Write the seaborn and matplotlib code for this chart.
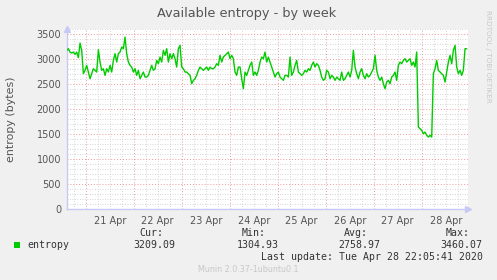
import numpy as np
import pandas as pd
import matplotlib
matplotlib.use("Agg")
import matplotlib.pyplot as plt
import matplotlib.dates as mdates
from matplotlib.ticker import MultipleLocator, FuncFormatter
import seaborn as sns

# ---- data ----
entropy = [
    3167, 3200, 3133, 3113, 3133, 3087, 3133, 3020, 3313, 3167,
    2700, 2767, 2867, 2733, 2600, 2700, 2800, 2767, 2733, 3180,
    2933, 2767, 2800, 2667, 2800, 2733, 2867, 2733, 2967, 3100,
    2933, 3100, 3133, 3233, 3200, 3433, 3100, 2933, 2867, 2833,
    2733, 2800, 2667, 2767, 2600, 2667, 2733, 2633, 2633, 2667,
    2767, 2867, 2767, 2800, 2967, 2900, 3033, 2933, 3167, 3067,
    3200, 2933, 3100, 3000, 3100, 3000, 2833, 3200, 3267, 2833,
    2800, 2733, 2733, 2700, 2667, 2500, 2567, 2600, 2667, 2767,
    2833, 2800, 2767, 2800, 2833, 2767, 2833, 2800, 2800, 2833,
    2900, 2867, 3067, 2933, 3033, 3067, 3100, 3133, 3000, 3067,
    3000, 2733, 2667, 2833, 2833,
    2600, 2400, 2733, 2667, 2767, 2867, 2933, 2667, 2733, 2667,
    2767, 2933, 3033, 3000, 3133, 2933, 3033, 2933, 2833, 2733,
    2633, 2700, 2733, 2633, 2600, 2567, 2667, 2667, 2633, 3033,
    2667, 2733, 2867, 2967, 2733, 2700, 2667, 2700, 2767, 2733,
    2800, 2767, 2867, 2933, 2833, 2900, 2867, 2767, 2633, 2567,
    2600, 2767, 2733, 2600, 2667, 2633, 2567, 2633, 2600, 2567,
    2733, 2567, 2600, 2667, 2733, 2633, 2767, 3167, 2833, 2700,
    2600, 2733, 2800, 2667, 2600, 2700, 2633, 2667, 2733, 2800,
    3067, 2767, 2633, 2567, 2633, 2500, 2400, 2533, 2567, 2500,
    2633, 2667, 2733, 2567, 2867, 2933, 2900, 2967, 3000, 2933,
    2967, 3000, 2867, 2933, 2833, 3133, 1633, 1600, 1567, 1500,
    1533, 1467, 1433, 1467, 1433, 2700, 2800, 2967, 2767, 2733,
    2700, 2667, 2533, 2733, 2933, 3067, 2900, 3167, 3267, 2833,
    2700, 2767, 2667, 2767, 3200, 3200,
]
start_time = "2020-04-20 14:30"
sample_step = "50min"
title = "Available entropy - by week"
ylabel = "entropy (bytes)"
series_name = "entropy"
stats_labels = ["Cur:", "Min:", "Avg:", "Max:"]
stats_values = ["3209.09", "1304.93", "2758.97", "3460.07"]
last_update = "Last update: Tue Apr 28 22:05:41 2020"
footer = "Munin 2.0.37-1ubuntu0.1"
side_text = "RRDTOOL / TOBI OETIKER"

df = pd.DataFrame({
    "time": pd.date_range(start_time, periods=len(entropy), freq=sample_step),
    "value": entropy,
})

# ---- figure ----
sns.set_theme(style="white")
plt.rcParams["font.family"] = ["DejaVu Sans"]

W, H = 497, 280
fig = plt.figure(figsize=(W / 100, H / 100), dpi=100, facecolor="#F0F0F0")

def px(x, y):
    return x / W, 1 - y / H

left, right, top, bottom = 66.7, 468.0, 28.7, 208.7
ax = fig.add_axes([left / W, 1 - bottom / H, (right - left) / W, (bottom - top) / H])
ax.set_facecolor("white")

sns.lineplot(data=df, x="time", y="value", ax=ax, color="#00CC00", linewidth=1.0, zorder=5)

ax.set_ylim(0, 3600)
ax.set_xlim(pd.Timestamp("2020-04-20 14:30"), pd.Timestamp("2020-04-28 23:09"))

# y grid
ax.yaxis.set_major_locator(MultipleLocator(500))
ax.yaxis.set_minor_locator(MultipleLocator(100))
# x grid: red at midnight, gray every 6 h, labels at noon
ax.xaxis.set_major_locator(mdates.DayLocator())
ax.xaxis.set_major_formatter(FuncFormatter(lambda v, p: ""))
ax.xaxis.set_minor_locator(mdates.HourLocator(byhour=[6, 12, 18]))

def noon_fmt(v, p):
    d = mdates.num2date(v)
    return d.strftime("%d %b") if d.hour == 12 else ""

ax.xaxis.set_minor_formatter(FuncFormatter(noon_fmt))

ax.grid(which="major", color="#EE9A9A", linestyle=(0, (1, 2)), linewidth=0.7, zorder=1)
ax.grid(which="minor", color="#C8C8C8", linestyle=(0, (1, 2)), linewidth=0.6, zorder=0)

ax.tick_params(axis="both", which="both", length=0, labelsize=7, colors="#555555")
ax.tick_params(axis="y", pad=4)
ax.tick_params(axis="x", which="minor", pad=5)
ax.set_xlabel("")
ax.set_ylabel("")

for s in ["top", "right"]:
    ax.spines[s].set_visible(False)
for s in ["left", "bottom"]:
    ax.spines[s].set_color("#C8C8F5")
    ax.spines[s].set_linewidth(1.0)

# axis arrowheads
ax.plot([1.0], [0], marker=">", color="#C8C8F5", markersize=4, transform=ax.transAxes, clip_on=False)
ax.plot([0], [1.0], marker="^", color="#C8C8F5", markersize=4, transform=ax.transAxes, clip_on=False)

# ---- texts ----
fig.text(*px(247, 13), title, ha="center", va="center", fontsize=9.3, color="#555555")
fig.text(*px(11, 119.5), ylabel, ha="center", va="center", rotation=90, fontsize=7.9, color="#555555")
fig.text(*px(488, 56), side_text, ha="center", va="center", rotation=270, fontsize=5.2, color="#C8C8C8")

mono = "DejaVu Sans Mono"
fig.patches.append(plt.Rectangle(px(14, 248), 6 / W, 6 / H, transform=fig.transFigure,
                                 facecolor="#00CC00", edgecolor="none"))
fig.text(*px(27, 245), series_name, ha="left", va="center", fontsize=7.1, family=mono, color="#333333")
label_right = [163, 266, 368, 470]
value_right = [175.7, 278.3, 380.7, 482.7]
for lab, val, lx, vx in zip(stats_labels, stats_values, label_right, value_right):
    fig.text(*px(lx, 232.5), lab, ha="right", va="center", fontsize=7.1, family=mono, color="#333333")
    fig.text(*px(vx, 245), val, ha="right", va="center", fontsize=7.1, family=mono, color="#333333")
fig.text(*px(482.7, 257), last_update, ha="right", va="center", fontsize=7.1, family=mono, color="#333333")
fig.text(*px(248, 269.5), footer, ha="center", va="center", fontsize=5.8, color="#C8C8C8")

fig.savefig("out.png", dpi=100, facecolor=fig.get_facecolor())
